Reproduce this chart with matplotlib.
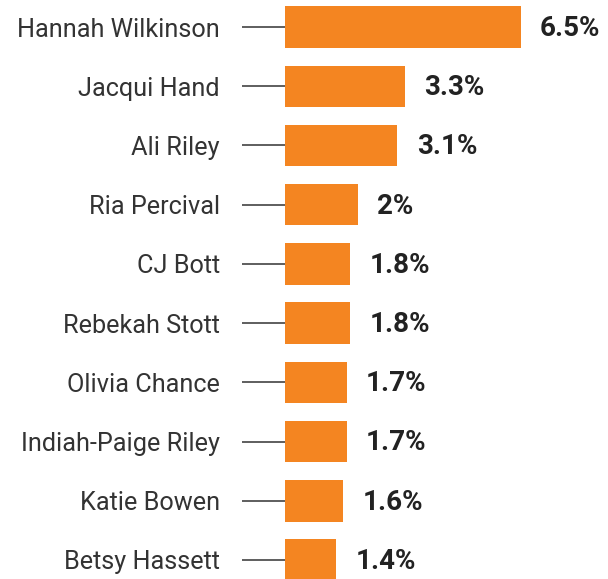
import matplotlib
matplotlib.use('Agg')
import matplotlib.pyplot as plt

# Dados
names = ['Hannah Wilkinson', 'Jacqui Hand', 'Ali Riley', 'Ria Percival', 'CJ Bott',
         'Rebekah Stott', 'Olivia Chance', 'Indiah-Paige Riley', 'Katie Bowen', 'Betsy Hassett']
values = [6.5, 3.3, 3.1, 2.0, 1.8, 1.8, 1.7, 1.7, 1.6, 1.4]
value_labels = ['6.5%', '3.3%', '3.1%', '2%', '1.8%', '1.8%', '1.7%', '1.7%', '1.6%', '1.4%']

plt.rcParams['font.family'] = ['Roboto', 'DejaVu Sans']

fig = plt.figure(figsize=(6.08, 5.79), dpi=100)
ax = fig.add_axes([285 / 608, 0, 323 / 608, 1])

pos = list(range(len(names)))
ax.barh(pos, values, height=0.70, color='#F48521')

# Rótulos dos valores
for p, v, lab in zip(pos, values, value_labels):
    ax.annotate(lab, (v, p), xytext=(14, -1), textcoords='offset points',
                va='center', ha='left', fontsize=20, fontweight='bold', color='#222222')

ax.set_xlim(0, 323 / 36.25)
ax.set_ylim(9 + 19 / 59.2, -27 / 59.2)

ax.set_yticks(pos)
ax.set_yticklabels(names, fontsize=18.2, color='#333333')
ax.tick_params(axis='y', length=31, width=1.1, color='#333333', pad=16)
ax.set_xticks([])
for s in ax.spines.values():
    s.set_visible(False)

fig.savefig('out.png', dpi=100)
